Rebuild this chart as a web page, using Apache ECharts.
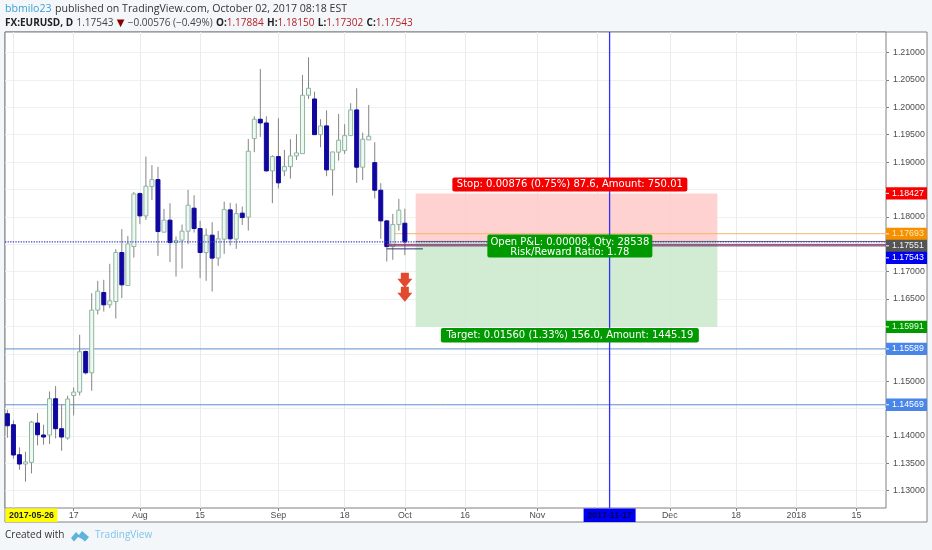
<!DOCTYPE html>
<html><head><meta charset="utf-8">
<style>html,body{margin:0;padding:0;background:#f4f7f9}#c{width:932px;height:550px}</style>
<script src="https://cdn.jsdelivr.net/npm/echarts@6/dist/echarts.min.js"></script>
</head><body><div id="c"></div>
<script>
// bar position = business-day index, 0 = 2017-06-30
const opens  = [1.14405,1.14205,1.13657,1.13487,1.13517,1.14236,1.14017,1.14017,1.14679,1.14132,1.13962,1.14739,1.14801,1.15542,1.15153,1.16298,1.16619,1.16394,1.16455,1.17349,1.16747,1.17458,1.18425,1.18018,1.18553,1.18681,1.17721,1.1794,1.17531,1.17575,1.17739,1.18159,1.17787,1.17349,1.17666,1.17247,1.17593,1.18128,1.17593,1.18068,1.17995,1.19429,1.19783,1.19715,1.1884,1.19101,1.1884,1.18918,1.19113,1.19155,1.20221,1.20153,1.19502,1.19661,1.18858,1.19181,1.1921,1.19484,1.19953,1.18907,1.19405,1.18991,1.18487,1.17927,1.17458,1.1786,1.17884];
const closes = [1.14186,1.13652,1.13487,1.13524,1.14254,1.14022,1.1398,1.14679,1.14132,1.1398,1.14674,1.14801,1.15537,1.15153,1.16298,1.16644,1.16394,1.16467,1.17349,1.16759,1.17507,1.1842,1.18018,1.1856,1.18681,1.17732,1.1794,1.17531,1.17568,1.17739,1.18214,1.17787,1.17349,1.17666,1.17247,1.17599,1.18133,1.17599,1.1806,1.17987,1.19199,1.19783,1.19715,1.1884,1.19101,1.18621,1.18918,1.19113,1.19168,1.20221,1.20349,1.19502,1.19661,1.18858,1.19186,1.194,1.19484,1.19953,1.18907,1.19418,1.19473,1.18487,1.17927,1.17458,1.1786,1.18122,1.17543];
const lows   = [1.13967,1.13584,1.13383,1.13164,1.13316,1.13827,1.1384,1.13852,1.13955,1.1373,1.13931,1.14374,1.14739,1.15123,1.14825,1.16217,1.16272,1.16334,1.16144,1.16517,1.16747,1.17257,1.17867,1.17945,1.1831,1.17288,1.17721,1.17174,1.16911,1.17057,1.17507,1.17714,1.16882,1.16832,1.16637,1.17106,1.17325,1.17476,1.17416,1.17854,1.1775,1.19181,1.1946,1.18827,1.1825,1.18517,1.18743,1.18699,1.1904,1.19155,1.20153,1.19502,1.19272,1.18743,1.18389,1.19028,1.1915,1.19484,1.18621,1.18675,1.19405,1.18334,1.17599,1.17184,1.17216,1.1775,1.17302];
const highs  = [1.14478,1.14283,1.1379,1.13712,1.14272,1.14418,1.14205,1.14812,1.14911,1.1457,1.14734,1.14885,1.15847,1.1556,1.16608,1.16832,1.16851,1.17143,1.17411,1.17776,1.17653,1.18456,1.18444,1.19101,1.18944,1.18913,1.18146,1.1825,1.17641,1.1786,1.18493,1.18396,1.17927,1.17787,1.17903,1.17745,1.18279,1.18256,1.18243,1.18188,1.19424,1.19838,1.20701,1.19838,1.19126,1.19801,1.19223,1.19418,1.19509,1.20591,1.20914,1.20287,1.19783,1.19947,1.19186,1.1988,1.19692,1.20075,1.20349,1.19538,1.20044,1.19363,1.18615,1.17945,1.18055,1.18329,1.1815];

const xMin = -0.4, xMax = 145.9, yMin = 1.12684, yMax = 1.21376;

const xTickIndex = [1,11,22,32,45,56,66,76,88,98,110,121,131,141];
const xTickText  = ['','17','Aug','15','Sep','18','Oct','16','Nov','','Dec','18','2018','15'];
const yGridValues  = [1.13,1.135,1.14,1.145,1.15,1.155,1.16,1.165,1.17,1.175,1.18,1.185,1.19,1.195,1.2,1.205,1.21];
const yLabelValues = [1.13,1.135,1.14,1.15,1.165,1.17,1.18,1.19,1.195,1.2,1.205,1.21];

// trade position
const stopPrice = 1.18427, entryPrice = 1.17551, targetPrice = 1.15991;
const zoneFromIndex = 67.8, zoneToIndex = 117.9;

// horizontal lines: price, from index, to index
const lineDotted  = [1.17543, xMin, xMax];
const lineOrange  = [1.17693, 64, xMax];
const lineEntry   = [1.17551, 67.8, xMax];
const lineRed     = [1.17498, 63, xMax];
const lineNavy    = [1.17471, 63, xMax];
const lineShort   = [1.17416, 63, 69];
const lineBlueA   = [1.15589, xMin, xMax];
const lineBlueB   = [1.14569, xMin, xMax];
const crossIndex  = 100;

const arrowIndex  = [66, 66];
const arrowPrices = [1.16841, 1.16586];

// price tags on the scale (display level, text)
const tagLevels = [1.18429, 1.1769, 1.17471, 1.17252, 1.15991, 1.15589, 1.14569];
const tagTexts  = ['1.18427','1.17693','1.17551','1.17543','1.15991','1.15589','1.14569'];
const tagFills  = ['#f80000','#f79000','#555555','#0000f0','#009a00','#4a85e8','#4a85e8'];
const tagInks   = ['#ffffff','#ffe9b0','#f2f2f2','#ffffff','#e8ffe8','#ffffff','#ffffff'];

// callouts on the position
const calloutIndex  = [93.4, 93.4, 93.4];
const calloutLevels = [1.18593, 1.17466, 1.15838];
const calloutTexts  = ['Stop: 0.00876 (0.75%) 87.6, Amount: 750.01','Open P&L: 0.00008, Qty: 28538\nRisk/Reward Ratio: 1.78','Target: 0.01560 (1.33%) 156.0, Amount: 1445.19'];
const calloutFills  = ['#f40000','#009a00','#009a00'];
const calloutWidths = [235, 165, 258];
const calloutHeights= [14, 23, 14.5];
const calloutTextNudge = [0, 1.5, 0];

// date tags on the time axis
const dateIndex = [4, 100];
const dateTexts = ['2017-05-26','2017-11-17'];
const dateFills = ['#ffff00','#0000f0'];
const dateInks  = ['#222222','#000060'];

function hline(a, color, type, width, z){
  return {type:'line', data:[[a[1],a[0]],[a[2],a[0]]], showSymbol:false, silent:true, z:z||3,
    lineStyle:{color:color,type:type||'solid',width:width||1}, animation:false};
}

const candleRows = opens.map((o,i)=>[i,o,closes[i],lows[i],highs[i]]);

const option = {
  animation:false,
  backgroundColor:'#f4f7f9',
  grid:{left:5,top:32,width:881,height:476,show:true,backgroundColor:'#ffffff',borderColor:'#808080',borderWidth:1},
  xAxis:{type:'value',min:xMin,max:xMax,
    axisLine:{show:false,onZero:false},
    axisTick:{show:true,length:3,lineStyle:{color:'#808080'},customValues:xTickIndex},
    splitLine:{show:true,lineStyle:{color:'#e9ebef',width:1}},
    axisLabel:{customValues:xTickIndex.filter((v,i)=>xTickText[i]),hideOverlap:false,margin:3,
      showMinLabel:true,showMaxLabel:true,
      color:'#4d4d4d',fontFamily:'Liberation Sans',fontSize:8.8,
      formatter:v=>xTickText[xTickIndex.indexOf(v)]||''}},
  yAxis:{type:'value',position:'right',min:yMin,max:yMax,
    axisLine:{show:false,onZero:false},
    axisTick:{show:true,length:3,lineStyle:{color:'#808080'},customValues:yGridValues},
    splitLine:{show:true,lineStyle:{color:'#eef0f3',width:1}},
    axisLabel:{customValues:yLabelValues,margin:7,color:'#4d4d4d',fontFamily:'Liberation Sans',fontSize:8.8,
      formatter:v=>v.toFixed(5)}},
  graphic:[
    {type:'rect',z:-1,shape:{x:5,y:32,width:922,height:490},style:{fill:'#ffffff',stroke:'#808080',lineWidth:1}},
    {type:'text',left:5,top:3,style:{
      text:'{a|bbmilo23} {b|published on TradingView.com, October 02, 2017 08:18 EST}',
      rich:{a:{fill:'#3d9fd6',fontFamily:'Open Sans',fontSize:10.6},b:{fill:'#333333',fontFamily:'Open Sans',fontSize:10.6}}}},
    {type:'text',left:5,top:17,style:{
      text:'{k|FX:EURUSD, D} {n|1.17543} {d|▼} {n|−0.00576 (−0.49%)} {k|O:}{r|1.17884} {k|H:}{r|1.18150} {k|L:}{r|1.17302} {k|C:}{r|1.17543}',
      rich:{k:{fill:'#222222',fontFamily:'Open Sans',fontSize:10,fontWeight:'bold'},
            n:{fill:'#444444',fontFamily:'Open Sans',fontSize:10},
            d:{fill:'#8b0000',fontFamily:'DejaVu Sans',fontSize:10},
            r:{fill:'#b5202c',fontFamily:'Open Sans',fontSize:10}}}},
    {type:'text',left:5,top:530,style:{text:'Created with',fill:'#333333',fontFamily:'Open Sans',fontSize:10}},
    {type:'polygon',shape:{points:[[71,538],[76,532],[79,535],[82,531],[89,537],[85,541.5],[82,539],[78,537],[74,541.5]]},style:{fill:'#5cb3dc'}},
    {type:'text',left:95,top:530,style:{text:'TradingView',fill:'#7fc4ea',fontFamily:'Open Sans',fontSize:10}}
  ],
  series:[
    // position zones, under the bars
    {type:'custom',z:1,silent:true,data:[[zoneFromIndex,stopPrice,zoneToIndex,entryPrice,'#ffcccc'],[zoneFromIndex,entryPrice,zoneToIndex,targetPrice,'#cbe9cc']],
     encode:{x:[0,2],y:[1,3]},
     renderItem:(p,api)=>{
       const a=api.coord([api.value(0),api.value(1)]), b=api.coord([api.value(2),api.value(3)]);
       return {type:'rect',shape:{x:a[0],y:a[1],width:b[0]-a[0],height:b[1]-a[1]},style:{fill:api.value(4),opacity:0.88}};
     }},
    hline(lineBlueA,'#5f8fd0'),
    hline(lineBlueB,'#5f8fd0'),
    hline(lineOrange,'#f5b66a'),
    hline(lineEntry,'#666666'),
    // candles: grey wick, coloured body
    {type:'custom',z:4,silent:true,data:candleRows,encode:{x:0,y:[1,2,3,4]},
     renderItem:(p,api)=>{
       const x=api.value(0), o=api.value(1), c=api.value(2), l=api.value(3), h=api.value(4);
       const po=api.coord([x,o]), pc=api.coord([x,c]), pl=api.coord([x,l]), ph=api.coord([x,h]);
       const up=c>=o, top=Math.min(po[1],pc[1]), hgt=Math.max(Math.abs(po[1]-pc[1]),1);
       return {type:'group',children:[
         {type:'line',shape:{x1:po[0],y1:ph[1],x2:po[0],y2:pl[1]},style:{stroke:'#858585',lineWidth:1}},
         {type:'rect',shape:{x:po[0]-2,y:top,width:4,height:hgt},
          style:up?{fill:'#f0f8f2',stroke:'#8db6a0',lineWidth:1}:{fill:'#10089e',stroke:'#10089e',lineWidth:1}}
       ]};
     }},
    hline(lineDotted,'#3f3fc8','dotted',1.3,5),
    hline(lineRed,'#b8324f','solid',1,5),
    hline(lineNavy,'#3a2f80','solid',1,5),
    hline(lineShort,'#2c2c70','solid',1,5),
    {type:'line',z:5,data:[[crossIndex,yMin],[crossIndex,yMax]],showSymbol:false,silent:true,lineStyle:{color:'#3030ff',width:1.3}},
    {type:'scatter',z:6,silent:true,data:arrowIndex.map((x,i)=>[x,arrowPrices[i]]),
     symbol:'path://M3.5,0 L11.5,0 L11.5,6 L15,6 L7.5,15 L0,6 L3.5,6 Z',symbolSize:[15,15],
     itemStyle:{color:'#e2492f',opacity:1}},
    // callouts
    {type:'custom',z:7,silent:true,data:calloutLevels.map((v,i)=>[calloutIndex[i],v]),
     renderItem:(p,api)=>{
       const i=p.dataIndex, c=api.coord([api.value(0),api.value(1)]), w=calloutWidths[i], h=calloutHeights[i];
       return {type:'group',children:[
         {type:'rect',shape:{x:c[0]-w/2,y:c[1]-h/2,width:w,height:h,r:2},style:{fill:calloutFills[i]}},
         {type:'text',x:c[0],y:c[1]+calloutTextNudge[i],style:{text:calloutTexts[i],fill:'#ffffff',align:'center',verticalAlign:'middle',
           fontFamily:'DejaVu Sans',fontSize:10,lineHeight:9.5}}
       ]};
     }},
    // price tags
    {type:'custom',z:8,silent:true,data:tagLevels.map(v=>[xMax,v]),
     renderItem:(p,api)=>{
       const i=p.dataIndex, c=api.coord([api.value(0),api.value(1)]);
       return {type:'group',children:[
         {type:'rect',shape:{x:c[0],y:c[1]-6.2,width:41,height:12.4},style:{fill:tagFills[i]}},
         {type:'line',shape:{x1:c[0],y1:c[1],x2:c[0]+3,y2:c[1]},style:{stroke:'#ffffff',lineWidth:1}},
         {type:'text',x:c[0]+6,y:c[1],style:{text:tagTexts[i],fill:tagInks[i],verticalAlign:'middle',
           fontFamily:'Liberation Sans',fontSize:8.8}}
       ]};
     }},
    // date tags
    {type:'custom',z:8,silent:true,data:dateIndex.map(x=>[x,yMin]),
     renderItem:(p,api)=>{
       const i=p.dataIndex, c=api.coord([api.value(0),api.value(1)]);
       return {type:'group',children:[
         {type:'rect',shape:{x:c[0]-26,y:c[1]+0.5,width:52,height:13.5},style:{fill:dateFills[i]}},
         {type:'text',x:c[0],y:c[1]+7.5,style:{text:dateTexts[i],fill:dateInks[i],align:'center',verticalAlign:'middle',
           fontFamily:'Liberation Sans',fontWeight:'bold',fontSize:8.8}}
       ]};
     }}
  ]
};
echarts.init(document.getElementById('c'),null,{renderer:'canvas'}).setOption(option);
</script></body></html>
